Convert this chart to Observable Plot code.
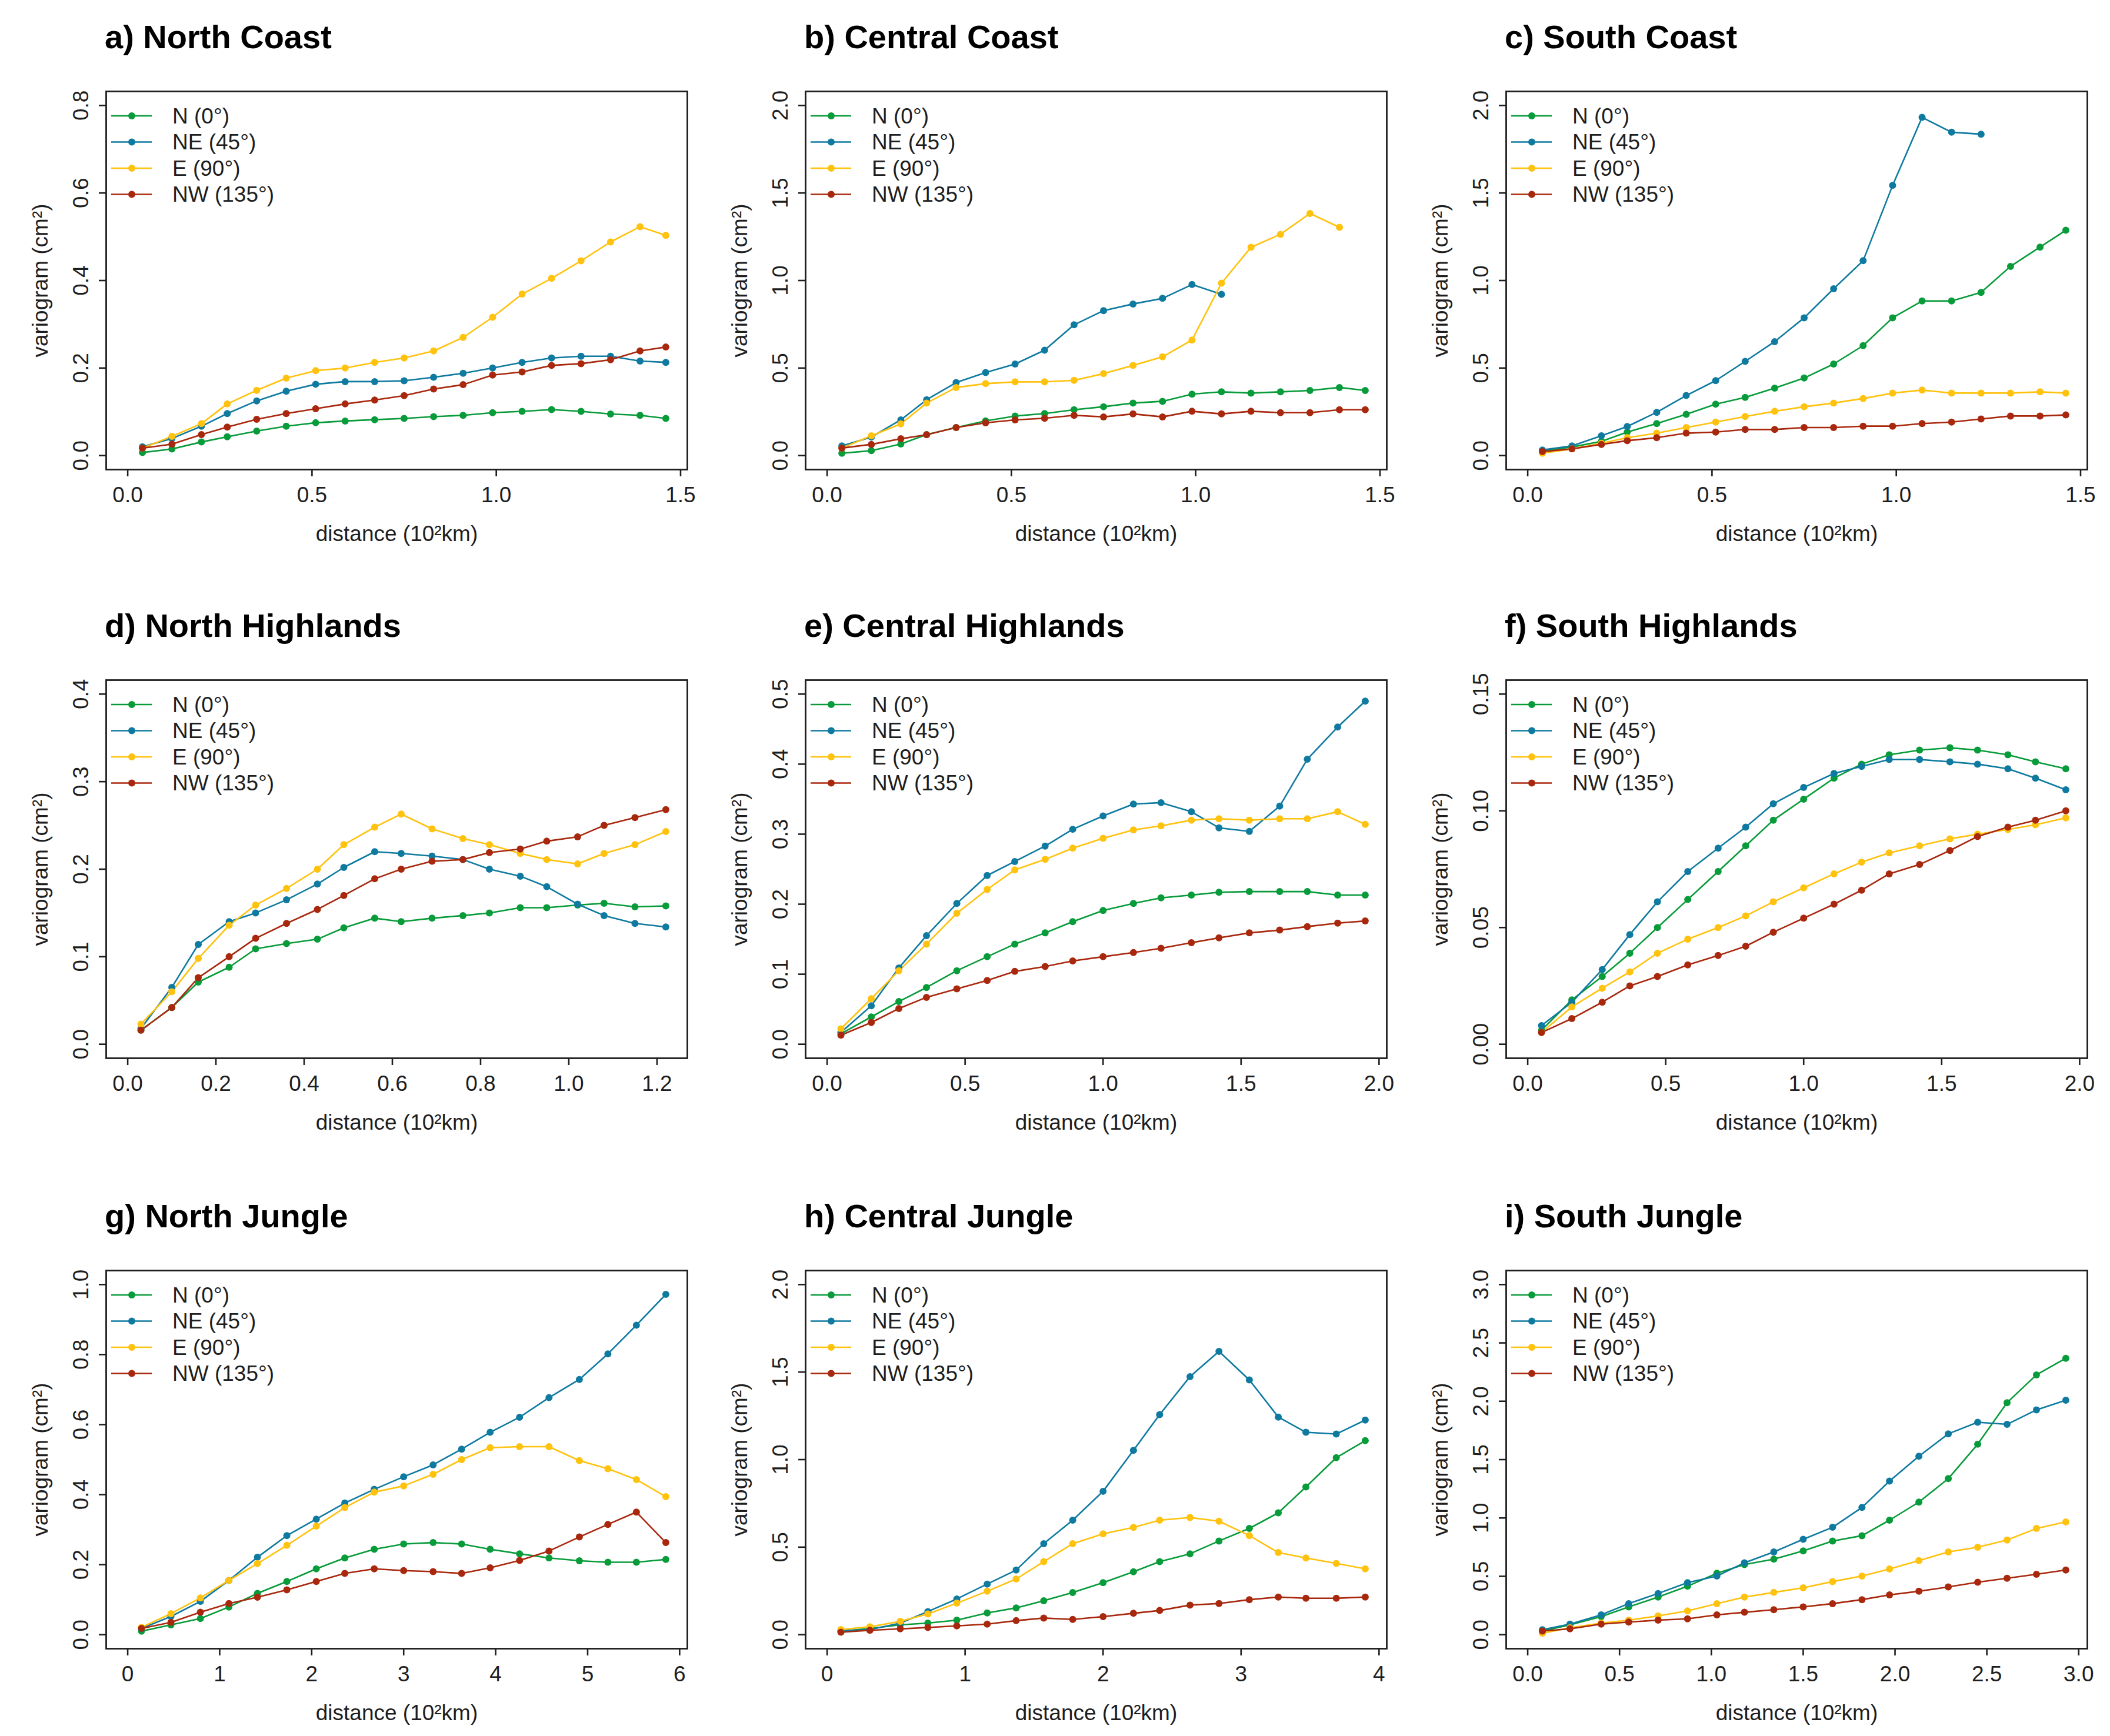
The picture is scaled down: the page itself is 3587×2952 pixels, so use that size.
<!DOCTYPE html>
<html><head><meta charset="utf-8">
<script src="https://cdn.jsdelivr.net/npm/d3@7"></script>
<script src="https://cdn.jsdelivr.net/npm/@observablehq/plot@0.6"></script>
<style>
html,body{margin:0;padding:0;background:#fff;}
#root{position:relative;width:3587px;height:2952px;background:#fff;overflow:hidden;}
.panel{position:absolute;}
.title{position:absolute;font:bold 56px "Liberation Sans",Arial,sans-serif;line-height:56px;white-space:nowrap;color:#000;}
</style></head>
<body><div id="root"></div>
<script>
const directions = ["N (0°)", "NE (45°)", "E (90°)", "NW (135°)"];
const dirColors = ["#089b3a", "#0f7aa0", "#ffc20e", "#a8280e"];
const panelTitles = ["a) North Coast", "b) Central Coast", "c) South Coast",
  "d) North Highlands", "e) Central Highlands", "f) South Highlands",
  "g) North Jungle", "h) Central Jungle", "i) South Jungle"];
const xAxisLabel = "distance (10²km)";
const yAxisLabel = "variogram (cm²)";

// a) North Coast
const distA = [0.04,0.12,0.20,0.27,0.35,0.43,0.51,0.59,0.67,0.75,0.83,0.91,0.99,1.07,1.15,1.23,1.31,1.39,1.46];
const nA  = [0.007,0.015,0.031,0.043,0.056,0.067,0.075,0.079,0.082,0.085,0.089,0.092,0.098,0.101,0.105,0.101,0.095,0.092,0.085];
const neA = [0.020,0.039,0.067,0.096,0.125,0.147,0.163,0.169,0.169,0.171,0.179,0.188,0.200,0.213,0.223,0.227,0.227,0.216,0.213];
const eA  = [0.017,0.044,0.073,0.118,0.149,0.177,0.194,0.200,0.213,0.223,0.239,0.270,0.316,0.369,0.405,0.445,0.488,0.523,0.503];
const nwA = [0.017,0.026,0.048,0.065,0.083,0.096,0.107,0.118,0.127,0.137,0.152,0.162,0.184,0.191,0.206,0.210,0.219,0.239,0.248];

// b) Central Coast
const distB = [0.04,0.12,0.20,0.27,0.35,0.43,0.51,0.59,0.67,0.75,0.83,0.91,0.99,1.07,1.15,1.23,1.31,1.39,1.46];
const nB  = [0.013,0.028,0.066,0.120,0.160,0.198,0.226,0.240,0.262,0.279,0.300,0.310,0.351,0.364,0.357,0.364,0.372,0.389,0.372];
const neB = [0.055,0.106,0.204,0.319,0.417,0.474,0.523,0.602,0.747,0.828,0.866,0.898,0.977,0.921];
const eB  = [0.043,0.113,0.181,0.300,0.389,0.411,0.421,0.421,0.430,0.468,0.515,0.564,0.660,0.985,1.190,1.264,1.383,1.304];
const nwB = [0.043,0.064,0.096,0.119,0.160,0.187,0.204,0.213,0.230,0.221,0.238,0.221,0.253,0.238,0.253,0.245,0.245,0.262,0.262];

// c) South Coast
const distC = [0.04,0.12,0.20,0.27,0.35,0.43,0.51,0.59,0.67,0.75,0.83,0.91,0.99,1.07,1.15,1.23,1.31,1.39,1.46];
const nC  = [0.028,0.049,0.081,0.134,0.183,0.236,0.294,0.332,0.385,0.443,0.523,0.628,0.787,0.883,0.883,0.932,1.081,1.191,1.287];
const neC = [0.032,0.055,0.113,0.166,0.247,0.343,0.428,0.538,0.651,0.787,0.953,1.113,1.543,1.932,1.847,1.836];
const eC  = [0.013,0.038,0.070,0.102,0.128,0.160,0.191,0.223,0.253,0.279,0.300,0.326,0.357,0.374,0.357,0.357,0.357,0.364,0.357];
const nwC = [0.023,0.038,0.064,0.085,0.102,0.128,0.134,0.149,0.149,0.160,0.160,0.168,0.168,0.183,0.191,0.209,0.226,0.226,0.232];

// d) North Highlands
const distD = [0.03,0.10,0.16,0.23,0.29,0.36,0.43,0.49,0.56,0.62,0.69,0.76,0.82,0.89,0.95,1.02,1.08,1.15,1.22];
const nD  = [0.016,0.042,0.071,0.088,0.109,0.115,0.120,0.133,0.144,0.140,0.144,0.147,0.150,0.156,0.156,0.159,0.161,0.157,0.158];
const neD = [0.018,0.065,0.114,0.140,0.150,0.165,0.183,0.202,0.220,0.218,0.215,0.211,0.200,0.192,0.180,0.160,0.147,0.138,0.134];
const eD  = [0.023,0.060,0.098,0.136,0.159,0.178,0.200,0.228,0.248,0.263,0.246,0.235,0.228,0.218,0.211,0.206,0.218,0.228,0.243];
const nwD = [0.016,0.042,0.076,0.100,0.121,0.138,0.154,0.170,0.189,0.200,0.209,0.211,0.219,0.223,0.232,0.237,0.250,0.259,0.268];

// e) Central Highlands
const distE = [0.05,0.16,0.26,0.36,0.47,0.58,0.68,0.79,0.89,1.00,1.11,1.21,1.32,1.42,1.53,1.64,1.74,1.85,1.95];
const nE  = [0.015,0.039,0.061,0.081,0.105,0.125,0.143,0.159,0.175,0.191,0.201,0.209,0.213,0.217,0.218,0.218,0.218,0.213,0.213];
const neE = [0.017,0.055,0.109,0.155,0.201,0.241,0.261,0.283,0.307,0.326,0.343,0.345,0.332,0.309,0.304,0.340,0.407,0.453,0.490];
const eE  = [0.022,0.065,0.105,0.143,0.187,0.221,0.249,0.264,0.280,0.294,0.306,0.312,0.320,0.322,0.320,0.322,0.322,0.332,0.314];
const nwE = [0.013,0.031,0.051,0.067,0.079,0.091,0.104,0.111,0.119,0.125,0.131,0.137,0.145,0.152,0.159,0.163,0.168,0.173,0.176];

// f) South Highlands
const distF = [0.05,0.16,0.27,0.37,0.47,0.58,0.69,0.79,0.89,1.00,1.11,1.21,1.31,1.42,1.53,1.63,1.74,1.84,1.95];
const nF  = [0.006,0.019,0.029,0.039,0.050,0.062,0.074,0.085,0.096,0.105,0.114,0.120,0.124,0.126,0.127,0.126,0.124,0.121,0.118];
const neF = [0.008,0.018,0.032,0.047,0.061,0.074,0.084,0.093,0.103,0.110,0.116,0.119,0.122,0.122,0.121,0.120,0.118,0.114,0.109];
const eF  = [0.005,0.016,0.024,0.031,0.039,0.045,0.050,0.055,0.061,0.067,0.073,0.078,0.082,0.085,0.088,0.090,0.092,0.094,0.097];
const nwF = [0.005,0.011,0.018,0.025,0.029,0.034,0.038,0.042,0.048,0.054,0.060,0.066,0.073,0.077,0.083,0.089,0.093,0.096,0.100];

// g) North Jungle
const distG = [0.15,0.47,0.79,1.10,1.41,1.73,2.05,2.36,2.68,3.00,3.32,3.63,3.94,4.26,4.58,4.91,5.22,5.53,5.85];
const nG  = [0.010,0.028,0.046,0.079,0.118,0.152,0.188,0.219,0.244,0.259,0.263,0.259,0.244,0.231,0.219,0.211,0.207,0.207,0.215];
const neG = [0.018,0.052,0.095,0.155,0.221,0.283,0.330,0.376,0.415,0.451,0.485,0.530,0.578,0.621,0.677,0.729,0.802,0.884,0.972];
const eG  = [0.021,0.060,0.105,0.155,0.203,0.255,0.310,0.363,0.407,0.425,0.458,0.500,0.534,0.537,0.537,0.497,0.474,0.443,0.394];
const nwG = [0.018,0.035,0.064,0.089,0.107,0.128,0.152,0.175,0.188,0.183,0.180,0.175,0.191,0.212,0.239,0.279,0.315,0.350,0.263];

// h) Central Jungle
const distH = [0.10,0.31,0.53,0.73,0.94,1.16,1.37,1.57,1.78,2.00,2.22,2.41,2.63,2.84,3.06,3.27,3.47,3.69,3.90];
const nH  = [0.021,0.035,0.056,0.066,0.083,0.124,0.153,0.194,0.241,0.297,0.359,0.417,0.462,0.535,0.607,0.696,0.844,1.011,1.108];
const neH = [0.021,0.029,0.066,0.132,0.204,0.289,0.369,0.520,0.654,0.819,1.053,1.257,1.474,1.618,1.455,1.243,1.156,1.146,1.226];
const eH  = [0.029,0.045,0.076,0.118,0.180,0.248,0.318,0.417,0.520,0.576,0.613,0.654,0.669,0.648,0.566,0.469,0.438,0.407,0.376];
const nwH = [0.014,0.025,0.033,0.041,0.050,0.060,0.080,0.095,0.087,0.103,0.122,0.138,0.169,0.178,0.200,0.215,0.208,0.208,0.215];

// i) South Jungle
const distI = [0.08,0.23,0.40,0.55,0.71,0.87,1.03,1.18,1.34,1.50,1.66,1.82,1.97,2.13,2.29,2.45,2.61,2.77,2.93];
const nI  = [0.031,0.084,0.155,0.238,0.322,0.415,0.526,0.601,0.647,0.718,0.802,0.848,0.981,1.136,1.337,1.632,1.988,2.226,2.368];
const neI = [0.043,0.090,0.170,0.266,0.353,0.446,0.502,0.616,0.709,0.817,0.920,1.090,1.316,1.529,1.721,1.820,1.802,1.926,2.009];
const eI  = [0.012,0.059,0.099,0.124,0.161,0.204,0.266,0.322,0.362,0.402,0.455,0.502,0.563,0.635,0.709,0.749,0.811,0.910,0.966];
const nwI = [0.031,0.050,0.090,0.108,0.124,0.136,0.170,0.192,0.214,0.238,0.266,0.300,0.341,0.372,0.409,0.449,0.483,0.517,0.554];

// tick values and labels
const xTicks15 = [0, 0.5, 1.0, 1.5];        const xLabels15 = ["0.0","0.5","1.0","1.5"];
const xTicks12 = [0,0.2,0.4,0.6,0.8,1.0,1.2]; const xLabels12 = ["0.0","0.2","0.4","0.6","0.8","1.0","1.2"];
const xTicks20 = [0,0.5,1.0,1.5,2.0];       const xLabels20 = ["0.0","0.5","1.0","1.5","2.0"];
const xTicks6 = [0,1,2,3,4,5,6];            const xLabels6 = ["0","1","2","3","4","5","6"];
const xTicks4 = [0,1,2,3,4];                const xLabels4 = ["0","1","2","3","4"];
const xTicks30 = [0,0.5,1.0,1.5,2.0,2.5,3.0]; const xLabels30 = ["0.0","0.5","1.0","1.5","2.0","2.5","3.0"];

const yTicksA = [0,0.2,0.4,0.6,0.8];   const yLabelsA = ["0.0","0.2","0.4","0.6","0.8"];
const yTicks2 = [0,0.5,1.0,1.5,2.0];   const yLabels2 = ["0.0","0.5","1.0","1.5","2.0"];
const yTicksD = [0,0.1,0.2,0.3,0.4];   const yLabelsD = ["0.0","0.1","0.2","0.3","0.4"];
const yTicksE = [0,0.1,0.2,0.3,0.4,0.5]; const yLabelsE = ["0.0","0.1","0.2","0.3","0.4","0.5"];
const yTicksF = [0,0.05,0.10,0.15];    const yLabelsF = ["0.00","0.05","0.10","0.15"];
const yTicksG = [0,0.2,0.4,0.6,0.8,1.0]; const yLabelsG = ["0.0","0.2","0.4","0.6","0.8","1.0"];
const yTicksI = [0,0.5,1.0,1.5,2.0,2.5,3.0]; const yLabelsI = ["0.0","0.5","1.0","1.5","2.0","2.5","3.0"];

const panels = [
  {dist: distA, series: [nA, neA, eA, nwA], xt: xTicks15, xl: xLabels15, yt: yTicksA, yl: yLabelsA},
  {dist: distB, series: [nB, neB, eB, nwB], xt: xTicks15, xl: xLabels15, yt: yTicks2, yl: yLabels2},
  {dist: distC, series: [nC, neC, eC, nwC], xt: xTicks15, xl: xLabels15, yt: yTicks2, yl: yLabels2},
  {dist: distD, series: [nD, neD, eD, nwD], xt: xTicks12, xl: xLabels12, yt: yTicksD, yl: yLabelsD},
  {dist: distE, series: [nE, neE, eE, nwE], xt: xTicks20, xl: xLabels20, yt: yTicksE, yl: yLabelsE},
  {dist: distF, series: [nF, neF, eF, nwF], xt: xTicks20, xl: xLabels20, yt: yTicksF, yl: yLabelsF},
  {dist: distG, series: [nG, neG, eG, nwG], xt: xTicks6, xl: xLabels6, yt: yTicksG, yl: yLabelsG},
  {dist: distH, series: [nH, neH, eH, nwH], xt: xTicks4, xl: xLabels4, yt: yTicks2, yl: yLabels2},
  {dist: distI, series: [nI, neI, eI, nwI], xt: xTicks30, xl: xLabels30, yt: yTicksI, yl: yLabelsI}
];

const FONT = '"Liberation Sans",Arial,sans-serif';
const FS = 37;
const INK = "#1e1e1e";
const colLeft = [180, 1369, 2560];
const rowTop = [155, 1156, 2160];
const BOXW = 988, BOXH = 643, MT = 40, MB = 152, ML = 180, MR = 30;
const root = document.getElementById("root");

panels.forEach((p, i) => {
  const c = i % 3, r = Math.floor(i / 3);
  const rows = [];
  p.series.forEach((vals, k) => vals.forEach((v, j) => rows.push({dist: p.dist[j], value: v, dir: directions[k]})));
  const xmax = p.dist[p.dist.length - 1];
  const ymax = p.yt[p.yt.length - 1];
  const xtIdx = p.xt.map((v, j) => ({v, label: p.xl[j]}));
  const ytIdx = p.yt.map((v, j) => ({v, label: p.yl[j]}));

  const svg = Plot.plot({
    width: ML + BOXW + MR, height: MT + BOXH + MB,
    marginLeft: ML, marginRight: MR, marginTop: MT, marginBottom: MB,
    style: {fontFamily: FONT, fontSize: FS + "px", background: "transparent", color: INK, overflow: "visible"},
    x: {domain: [-0.04 * xmax, 1.04 * xmax]},
    y: {domain: [-0.04 * ymax, 1.04 * ymax]},
    color: {domain: directions, range: dirColors},
    marks: [
      Plot.line(rows, {x: "dist", y: "value", z: "dir", stroke: "dir", strokeWidth: 2.6}),
      Plot.dot(rows, {x: "dist", y: "value", fill: "dir", r: 6}),
      Plot.frame({stroke: INK, strokeWidth: 2.8}),
      Plot.axisX(p.xt, {tickSize: 12, tickFormat: () => "", label: null, stroke: INK, strokeWidth: 2.6}),
      Plot.axisY(p.yt, {tickSize: 12, tickFormat: () => "", label: null, stroke: INK, strokeWidth: 2.6}),
      Plot.text(xtIdx, {x: "v", text: "label", frameAnchor: "bottom", dy: 44, lineAnchor: "middle", fontSize: FS, fill: INK}),
      Plot.text(ytIdx, {y: "v", text: "label", frameAnchor: "left", dx: -42, rotate: -90, textAnchor: "middle", lineAnchor: "middle", fontSize: FS, fill: INK}),
      Plot.text([xAxisLabel], {text: d => d, frameAnchor: "bottom", dy: 110, lineAnchor: "middle", fontSize: FS, fill: INK}),
      Plot.text([yAxisLabel], {text: d => d, frameAnchor: "left", dx: -111, rotate: -90, textAnchor: "middle", lineAnchor: "middle", fontSize: FS, fill: INK})
    ]
  });

  // legend inside the box, top-left
  const lg = d3.select(svg).append("g").attr("class", "legend");
  directions.forEach((d, k) => {
    const yy = MT + 42 + k * 44.5;
    lg.append("line").attr("x1", ML + 9).attr("x2", ML + 78).attr("y1", yy).attr("y2", yy)
      .attr("stroke", dirColors[k]).attr("stroke-width", 2.6);
    lg.append("circle").attr("cx", ML + 44).attr("cy", yy).attr("r", 6).attr("fill", dirColors[k]);
    lg.append("text").attr("x", ML + 113).attr("y", yy).attr("dy", "0.35em")
      .attr("text-anchor", "start")
      .attr("font-family", FONT).attr("font-size", FS).attr("fill", INK).text(d);
  });

  const panel = document.createElement("div");
  panel.className = "panel";
  panel.style.left = (colLeft[c] - ML) + "px";
  panel.style.top = (rowTop[r] - MT) + "px";
  panel.appendChild(svg);
  root.appendChild(panel);

  const t = document.createElement("div");
  t.className = "title";
  t.textContent = panelTitles[i];
  t.style.left = (colLeft[c] - 2) + "px";
  t.style.top = (rowTop[r] - 73 - 47) + "px";
  root.appendChild(t);
});
</script>
</body></html>
